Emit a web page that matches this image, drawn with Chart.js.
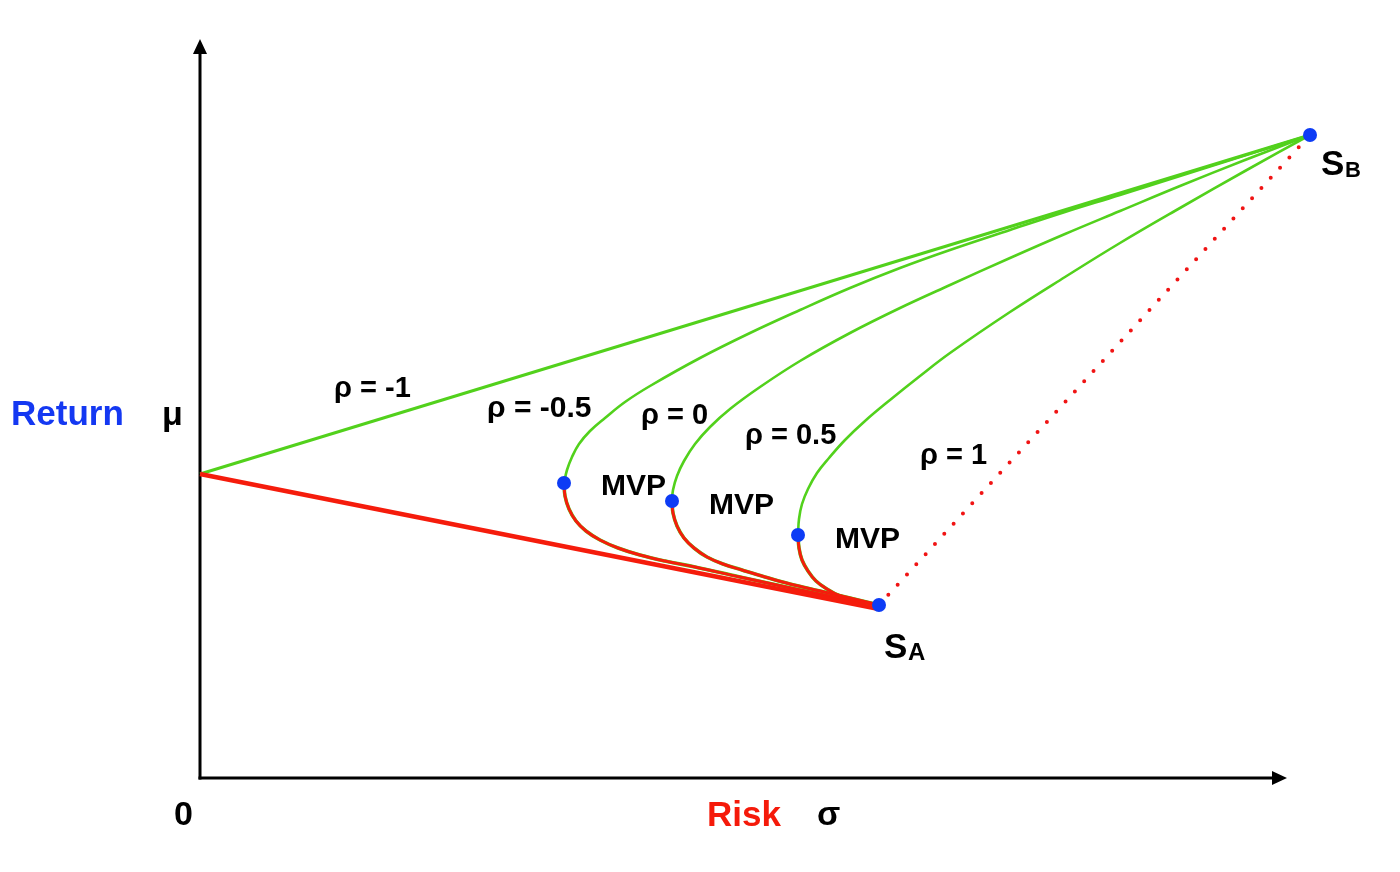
<!DOCTYPE html>
<html><head><meta charset="utf-8">
<script src="https://cdn.jsdelivr.net/npm/chart.js@4/dist/chart.umd.min.js"></script>
<style>html,body{margin:0;padding:0;background:#fff;overflow:hidden}#wrap{position:relative;width:1400px;height:872px}</style>
</head><body><div id="wrap"><canvas id="c" width="1400" height="872"></canvas></div>
<script>
// ---- data (sigma = risk, mu = return) ----
const rhoNeg1UpperSigma = [0, 111.0];
const rhoNeg1UpperMu    = [30.4, 64.3];
const rhoNeg1LowerSigma = [0, 67.9];
const rhoNeg1LowerMu    = [30.4, 16.9];

const rhoNeg05UpSigma = [111.0, 104.0, 98.0, 92.0, 86.5, 81.0, 75.0, 70.0, 65.0, 60.0, 55.0, 50.0, 45.0, 42.5, 40.5, 39.0, 37.9, 37.2, 36.7, 36.4];
const rhoNeg05UpMu    = [64.3, 62.1, 60.2, 58.3, 56.6, 54.8, 52.8, 51.0, 49.0, 46.8, 44.5, 42.0, 39.2, 37.6, 36.0, 34.7, 33.4, 32.1, 30.8, 29.5];
const rhoNeg05LowSigma = [36.4, 36.5, 36.9, 37.6, 38.6, 40.0, 41.8, 44.0, 46.5, 49.5, 54.0, 60.0, 65.0, 67.9];
const rhoNeg05LowMu    = [29.5, 28.2, 26.9, 25.7, 24.7, 23.8, 23.0, 22.3, 21.7, 21.1, 20.1, 18.8, 17.8, 17.3];

const rho0UpSigma = [111.0, 104.5, 98.0, 92.0, 86.5, 81.0, 75.0, 70.0, 65.0, 60.0, 56.0, 53.0, 51.0, 49.5, 48.4, 47.7, 47.3, 47.2];
const rho0UpMu    = [64.3, 61.8, 59.2, 56.7, 54.4, 52.0, 49.3, 47.0, 44.5, 41.7, 39.1, 36.9, 35.1, 33.4, 31.7, 30.2, 28.8, 27.7];
const rho0LowSigma = [47.2, 47.3, 47.7, 48.4, 49.4, 50.7, 52.3, 54.2, 56.5, 59.0, 62.0, 65.0, 67.9];
const rho0LowMu    = [27.7, 26.5, 25.2, 24.0, 23.0, 22.1, 21.4, 20.8, 20.1, 19.4, 18.7, 18.0, 17.3];

const rho05UpSigma = [111.0, 104.5, 98.0, 92.0, 86.5, 81.0, 75.0, 72.0, 69.0, 66.5, 64.5, 62.9, 61.7, 60.8, 60.2, 59.9, 59.8];
const rho05UpMu    = [64.3, 60.7, 57.0, 53.5, 50.1, 46.6, 42.5, 40.2, 37.8, 35.7, 33.8, 32.0, 30.5, 28.9, 27.4, 25.9, 24.3];
const rho05LowSigma = [59.8, 59.9, 60.2, 60.8, 61.6, 62.7, 64.0, 65.8, 67.9];
const rho05LowMu    = [24.3, 23.0, 21.8, 20.7, 19.7, 18.9, 18.2, 17.7, 17.3];

const rho1Sigma = [67.9, 111.0];
const rho1Mu    = [17.3, 64.3];

const markerSigma = [36.4, 47.2, 59.8, 67.9, 111.0];
const markerMu    = [29.5, 27.7, 24.3, 17.3, 64.3];

// ---- styles ----
const GREEN = '#52d11c', RED = '#f51c0c', BLUE = '#0d3cf5';
const FONT = '"Liberation Sans", Arial, Helvetica, sans-serif';

const xy = (xs, ys) => xs.map((x, i) => ({x, y: ys[i]}));

const labels = [
  {t:'Return', x:-18.9, y:35.3, c:'#1438f2', s:35},
  {t:'\u03bc', x:-3.8, y:35.3, c:'#000', s:34},
  {t:'0', x:-2.6, y:-4.7, c:'#000', s:34},
  {t:'Risk', x:50.7, y:-4.8, c:'#f51a0a', s:35},
  {t:'\u03c3', x:61.7, y:-4.7, c:'#000', s:34},
  {t:'S', x:68.4, y:12.0, c:'#000', s:35},
  {t:'A', x:70.8, y:11.8, c:'#000', s:24},
  {t:'S', x:112.1, y:60.3, c:'#000', s:35},
  {t:'B', x:114.5, y:60.1, c:'#000', s:22},
  {t:'\u03c1 = -1', x:13.4, y:38.1, c:'#000', s:29},
  {t:'\u03c1 = -0.5', x:28.7, y:36.1, c:'#000', s:30},
  {t:'\u03c1 = 0', x:44.1, y:35.4, c:'#000', s:29},
  {t:'\u03c1 = 0.5', x:54.5, y:33.4, c:'#000', s:29},
  {t:'\u03c1 = 1', x:72.0, y:31.4, c:'#000', s:29},
  {t:'MVP', x:40.1, y:28.3, c:'#000', s:30},
  {t:'MVP', x:50.9, y:26.4, c:'#000', s:30},
  {t:'MVP', x:63.5, y:23.0, c:'#000', s:30}
];
const axisXEnd = 108.7, axisYEnd = 73.9;

const axesPlugin = {
  id: 'axes',
  beforeDatasetsDraw(chart) {
    const ctx = chart.ctx, xs = chart.scales.x, ys = chart.scales.y;
    const x0 = xs.getPixelForValue(0), y0 = ys.getPixelForValue(0);
    const xe = xs.getPixelForValue(axisXEnd), ye = ys.getPixelForValue(axisYEnd);
    ctx.save();
    ctx.strokeStyle = '#000'; ctx.fillStyle = '#000'; ctx.lineWidth = 3;
    ctx.beginPath(); ctx.moveTo(x0, y0 + 1.5); ctx.lineTo(x0, ye + 14); ctx.stroke();
    ctx.beginPath(); ctx.moveTo(x0 - 1.5, y0); ctx.lineTo(xe - 14, y0); ctx.stroke();
    ctx.beginPath(); ctx.moveTo(x0, ye); ctx.lineTo(x0 - 7, ye + 15); ctx.lineTo(x0 + 7, ye + 15); ctx.closePath(); ctx.fill();
    ctx.beginPath(); ctx.moveTo(xe, y0); ctx.lineTo(xe - 15, y0 - 7); ctx.lineTo(xe - 15, y0 + 7); ctx.closePath(); ctx.fill();
    ctx.restore();
  },
  afterDraw(chart) {
    const ctx = chart.ctx, xs = chart.scales.x, ys = chart.scales.y;
    ctx.save();
    ctx.textAlign = 'left'; ctx.textBaseline = 'alphabetic';
    labels.forEach(l => {
      ctx.font = 'bold ' + l.s + 'px ' + FONT;
      ctx.fillStyle = l.c;
      ctx.fillText(l.t, xs.getPixelForValue(l.x), ys.getPixelForValue(l.y));
    });
    ctx.restore();
  }
};

const lineDs = (data, color, width, order, extra) => Object.assign({
  data, borderColor: color, backgroundColor: color, borderWidth: width,
  showLine: true, pointRadius: 0, pointHoverRadius: 0, tension: 0.4, fill: false, order, clip: false
}, extra || {});

new Chart(document.getElementById('c'), {
  type: 'scatter',
  data: {
    datasets: [
      lineDs(xy(markerSigma, markerMu), BLUE, 0, 0, {showLine: false, pointRadius: 7, pointBackgroundColor: BLUE, pointBorderWidth: 0}),
      lineDs(xy(rhoNeg1LowerSigma, rhoNeg1LowerMu), RED, 4.5, 1, {tension: 0}),
      lineDs(xy(rhoNeg05LowSigma, rhoNeg05LowMu), RED, 3, 1),
      lineDs(xy(rho0LowSigma, rho0LowMu), RED, 3, 1),
      lineDs(xy(rho05LowSigma, rho05LowMu), RED, 3, 1),
      lineDs(xy(rho1Sigma, rho1Mu), '#f01414', 4, 1, {tension: 0, borderDash: [0, 13.8], borderCapStyle: 'round'}),
      lineDs(xy(rhoNeg1UpperSigma, rhoNeg1UpperMu), GREEN, 3, 2, {tension: 0}),
      lineDs(xy(rhoNeg05UpSigma, rhoNeg05UpMu), GREEN, 2.6, 2),
      lineDs(xy(rhoNeg05LowSigma, rhoNeg05LowMu), GREEN, 3.6, 3),
      lineDs(xy(rho0UpSigma, rho0UpMu), GREEN, 2.6, 2),
      lineDs(xy(rho0LowSigma, rho0LowMu), GREEN, 3.6, 3),
      lineDs(xy(rho05UpSigma, rho05UpMu), GREEN, 2.6, 2),
      lineDs(xy(rho05LowSigma, rho05LowMu), GREEN, 3.6, 3)
    ]
  },
  options: {
    responsive: false, animation: false, devicePixelRatio: 1,
    layout: {autoPadding: false, padding: {left: 200, right: 0, top: 0, bottom: 94}},
    plugins: {legend: {display: false}, tooltip: {enabled: false}},
    events: [],
    scales: {
      x: {type: 'linear', min: 0, max: 120, display: false},
      y: {type: 'linear', min: 0, max: 77.8, display: false}
    }
  },
  plugins: [axesPlugin]
});
</script>
</body></html>
